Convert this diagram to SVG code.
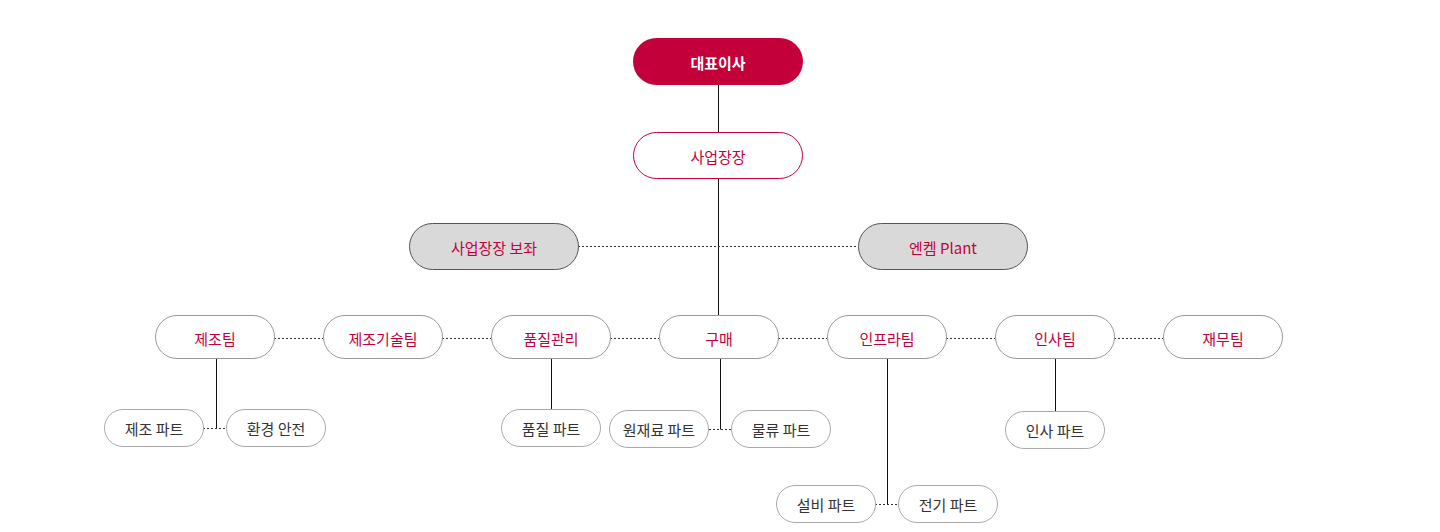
<svg xmlns="http://www.w3.org/2000/svg" width="1440" height="532" viewBox="0 0 1440 532">
<style>
text{font-family:"Noto Sans CJK KR","Noto Sans",sans-serif;font-size:15px;text-anchor:middle;dominant-baseline:central}
.top rect{fill:#c4003b}
.top text{fill:#fff;font-weight:bold}
.site rect{fill:#fff;stroke:#c4003b;stroke-width:1}
.site text{fill:#c4003b}
.gray rect{fill:#d9d9d9;stroke:#555;stroke-width:1}
.gray text{fill:#c4003b}
.team rect{fill:#fff;stroke:#999;stroke-width:1}
.team text{fill:#c4003b}
.part rect{fill:#fff;stroke:#aaa;stroke-width:1}
.part text{fill:#333}
.solid{stroke:#111;stroke-width:1;fill:none}
.dot{stroke:#333;stroke-width:1;stroke-dasharray:2 2;fill:none}
</style>
<g id="connectors">
<line class="solid" x1="718.5" y1="85" x2="718.5" y2="132"/>
<line class="solid" x1="718.5" y1="179" x2="718.5" y2="315"/>
<line class="dot" x1="578" y1="246.5" x2="858" y2="246.5"/>
<line class="dot" x1="274" y1="338.5" x2="323" y2="338.5"/>
<line class="dot" x1="442" y1="338.5" x2="491" y2="338.5"/>
<line class="dot" x1="610" y1="338.5" x2="659" y2="338.5"/>
<line class="dot" x1="778" y1="338.5" x2="827" y2="338.5"/>
<line class="dot" x1="946" y1="338.5" x2="995" y2="338.5"/>
<line class="dot" x1="1114" y1="338.5" x2="1163" y2="338.5"/>
<line class="solid" x1="216.5" y1="359" x2="216.5" y2="428.5"/>
<line class="dot" x1="203" y1="428.5" x2="226" y2="428.5"/>
<line class="solid" x1="551.5" y1="359" x2="551.5" y2="409"/>
<line class="solid" x1="720.5" y1="359" x2="720.5" y2="429.5"/>
<line class="dot" x1="709" y1="429.5" x2="731" y2="429.5"/>
<line class="solid" x1="887.5" y1="359" x2="887.5" y2="504.5"/>
<line class="dot" x1="875" y1="504.5" x2="898" y2="504.5"/>
<line class="solid" x1="1055.5" y1="359" x2="1055.5" y2="411"/>
</g>
<g id="ceo" class="top"><rect x="633" y="38" width="170" height="47" rx="23.5"/><text x="718" y="62">대표이사</text></g>
<g id="site-head" class="site"><rect x="633.5" y="132.5" width="169" height="46" rx="23"/><text x="718" y="156">사업장장</text></g>
<g id="site-assist" class="gray"><rect x="409.5" y="223.5" width="169" height="46" rx="23"/><text x="494" y="247">사업장장 보좌</text></g>
<g id="enchem-plant" class="gray"><rect x="858.5" y="223.5" width="169" height="46" rx="23"/><text x="943" y="247">엔켐 Plant</text></g>
<g id="t-manu" class="team"><rect x="155.5" y="315.5" width="119" height="43" rx="21.5"/><text x="215" y="338">제조팀</text></g>
<g id="t-manutech" class="team"><rect x="323.5" y="315.5" width="119" height="43" rx="21.5"/><text x="383" y="338">제조기술팀</text></g>
<g id="t-quality" class="team"><rect x="491.5" y="315.5" width="119" height="43" rx="21.5"/><text x="551" y="338">품질관리</text></g>
<g id="t-purchase" class="team"><rect x="659.5" y="315.5" width="119" height="43" rx="21.5"/><text x="719" y="338">구매</text></g>
<g id="t-infra" class="team"><rect x="827.5" y="315.5" width="119" height="43" rx="21.5"/><text x="887" y="338">인프라팀</text></g>
<g id="t-hr" class="team"><rect x="995.5" y="315.5" width="119" height="43" rx="21.5"/><text x="1055" y="338">인사팀</text></g>
<g id="t-finance" class="team"><rect x="1163.5" y="315.5" width="119" height="43" rx="21.5"/><text x="1223" y="338">재무팀</text></g>
<g id="p-manu" class="part"><rect x="104.5" y="409.5" width="99" height="37" rx="18.5"/><text x="154" y="428">제조 파트</text></g>
<g id="p-env" class="part"><rect x="226.5" y="409.5" width="99" height="37" rx="18.5"/><text x="276" y="428">환경 안전</text></g>
<g id="p-quality" class="part"><rect x="501.5" y="409.5" width="99" height="37" rx="18.5"/><text x="551" y="428">품질 파트</text></g>
<g id="p-raw" class="part"><rect x="609.5" y="410.5" width="99" height="37" rx="18.5"/><text x="659" y="429">원재료 파트</text></g>
<g id="p-logi" class="part"><rect x="731.5" y="410.5" width="99" height="37" rx="18.5"/><text x="781" y="429">물류 파트</text></g>
<g id="p-hr" class="part"><rect x="1005.5" y="411.5" width="99" height="37" rx="18.5"/><text x="1055" y="430">인사 파트</text></g>
<g id="p-facility" class="part"><rect x="776.5" y="485.5" width="99" height="37" rx="18.5"/><text x="826" y="504">설비 파트</text></g>
<g id="p-elec" class="part"><rect x="898.5" y="485.5" width="99" height="37" rx="18.5"/><text x="948" y="504">전기 파트</text></g>
</svg>
